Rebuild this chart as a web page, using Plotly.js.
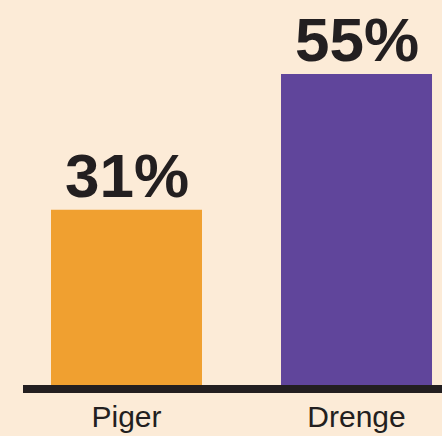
<!DOCTYPE html>
<html>
<head>
<meta charset="utf-8">
<script src="https://cdn.plot.ly/plotly-3.0.1.min.js"></script>
<style>html,body{margin:0;padding:0;background:#FCEBD7;}</style>
</head>
<body>
<div id="chart" style="width:442px;height:436px;"></div>
<script>
var categories = ["Piger", "Drenge"];
var values = [31, 55];
var valueLabels = ["31%", "55%"];
var barColors = ["#F0A030", "#60459B"];

var textColor = "#231F20";
var trace = {
  type: "bar",
  x: categories,
  y: values,
  width: 0.6565,
  marker: {color: barColors, line: {width: 0}},
  hoverinfo: "none"
};

var annotations = categories.map(function (c, i) {
  return {
    x: c, y: values[i], xref: "x", yref: "y",
    text: "<b>" + valueLabels[i] + "</b>",
    showarrow: false, yanchor: "bottom", yshift: -2,
    font: {family: "Liberation Sans, Arial, sans-serif", size: 62, color: textColor}
  };
});

var layout = {
  width: 442, height: 436,
  margin: {l: 0, r: 0, t: 0, b: 51},
  paper_bgcolor: "#FCEBD7",
  plot_bgcolor: "#FCEBD7",
  showlegend: false,
  xaxis: {
    type: "category",
    range: [-0.55, 1.3717],
    showgrid: false, zeroline: false, showline: false,
    ticks: "", ticklabelstandoff: 11,
    tickfont: {family: "Liberation Sans, Arial, sans-serif", size: 30, color: textColor},
    fixedrange: true
  },
  yaxis: {
    range: [0, 68.1],
    showgrid: false, zeroline: false, showline: false,
    showticklabels: false, ticks: "",
    fixedrange: true
  },
  shapes: [{
    type: "rect", xref: "paper", yref: "paper",
    x0: 23 / 442, x1: 1, y0: -8 / 385, y1: 0,
    fillcolor: textColor, line: {width: 0}, layer: "above"
  }],
  annotations: annotations
};

Plotly.newPlot("chart", [trace], layout, {displayModeBar: false, staticPlot: true});
</script>
</body>
</html>
